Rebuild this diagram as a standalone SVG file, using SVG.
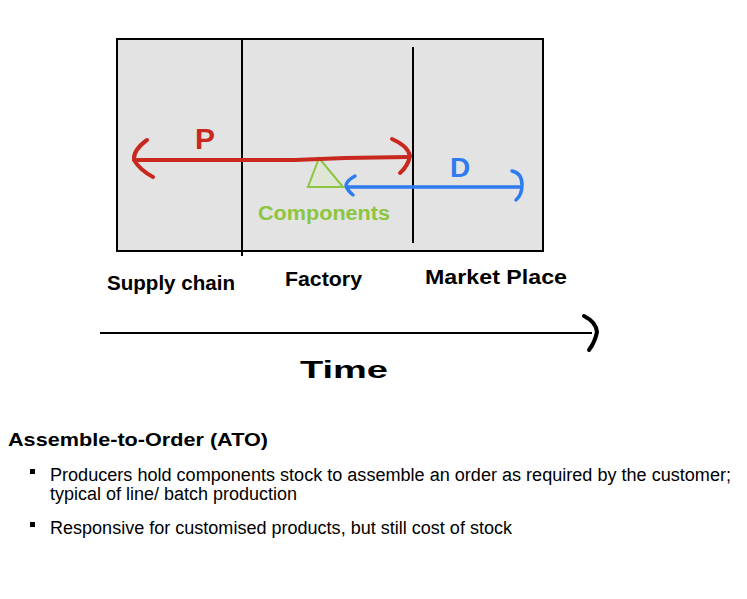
<svg xmlns="http://www.w3.org/2000/svg" width="747" height="599" viewBox="0 0 747 599">
<style>
.hand{font-family:"Liberation Sans",sans-serif;font-weight:bold;}
.body{font-family:"Liberation Sans",Arial,sans-serif;font-size:18px;fill:#000;}
.red{stroke:#c8281e;stroke-width:4;fill:none;stroke-linecap:round;stroke-linejoin:round;}
.blue{stroke:#2f7bf0;stroke-width:3.5;fill:none;stroke-linecap:round;stroke-linejoin:round;}
</style>
<rect width="747" height="599" fill="#fff"/>
<g id="frame">
<rect x="117" y="39" width="426" height="212" fill="#e3e3e3" stroke="#000" stroke-width="2"/>
<line x1="242" y1="39" x2="242" y2="256" stroke="#000" stroke-width="2"/>
<line x1="413" y1="47" x2="413" y2="243" stroke="#000" stroke-width="2"/>
</g>
<g id="components">
<polygon points="319,158 308,187 343,187" fill="#dfe6d5" stroke="#8cc63f" stroke-width="2"/>
<text class="hand" x="258" y="220" font-size="20" fill="#8cc63f" textLength="132" lengthAdjust="spacingAndGlyphs">Components</text>
</g>
<g id="connectors">
<path class="red" d="M137,160 L295,160 L345,158 L408,157"/>
<path class="red" d="M147,140 Q133,150 134,160 Q140,170 153,177"/>
<path class="red" d="M392,139 Q408,146 410,156 Q408,166 400,173"/>
<path class="blue" d="M347,187 L520,187"/>
<path class="blue" d="M355,176 Q346,181 346,186 Q348,191 353,195"/>
<path class="blue" d="M512,171 Q522,173 522,185 Q522,195 516,200"/>
<line x1="100" y1="333" x2="592" y2="333" stroke="#000" stroke-width="2"/>
<path d="M584,316 Q596,322 597,332 Q595,342 589,350" stroke="#000" stroke-width="4" fill="none" stroke-linecap="round"/>
</g>
<g id="labels">
<text class="hand" x="195" y="149" font-size="30" fill="#c8281e">P</text>
<text class="hand" x="450" y="177" font-size="28" fill="#2f7bf0">D</text>
<text class="hand" x="107" y="290" font-size="20" fill="#000" textLength="128" lengthAdjust="spacingAndGlyphs">Supply chain</text>
<text class="hand" x="285" y="286" font-size="20" fill="#000" textLength="77" lengthAdjust="spacingAndGlyphs">Factory</text>
<text class="hand" x="425" y="284" font-size="20" fill="#000" textLength="142" lengthAdjust="spacingAndGlyphs">Market Place</text>
<text class="hand" x="300" y="378" font-size="24" fill="#000" textLength="88" lengthAdjust="spacingAndGlyphs">Time</text>
</g>
<g id="text">
<text class="body" x="8" y="446" font-weight="bold" font-size="19" textLength="260" lengthAdjust="spacingAndGlyphs">Assemble-to-Order (ATO)</text>
<rect x="30" y="469" width="5" height="5" fill="#000"/>
<text class="body" x="50" y="481" textLength="681" lengthAdjust="spacingAndGlyphs">Producers hold components stock to assemble an order as required by the customer;</text>
<text class="body" x="50" y="500" textLength="247" lengthAdjust="spacingAndGlyphs">typical of line/ batch production</text>
<rect x="30" y="522" width="5" height="5" fill="#000"/>
<text class="body" x="50" y="534" textLength="462" lengthAdjust="spacingAndGlyphs">Responsive for customised products, but still cost of stock</text>
</g>
</svg>
